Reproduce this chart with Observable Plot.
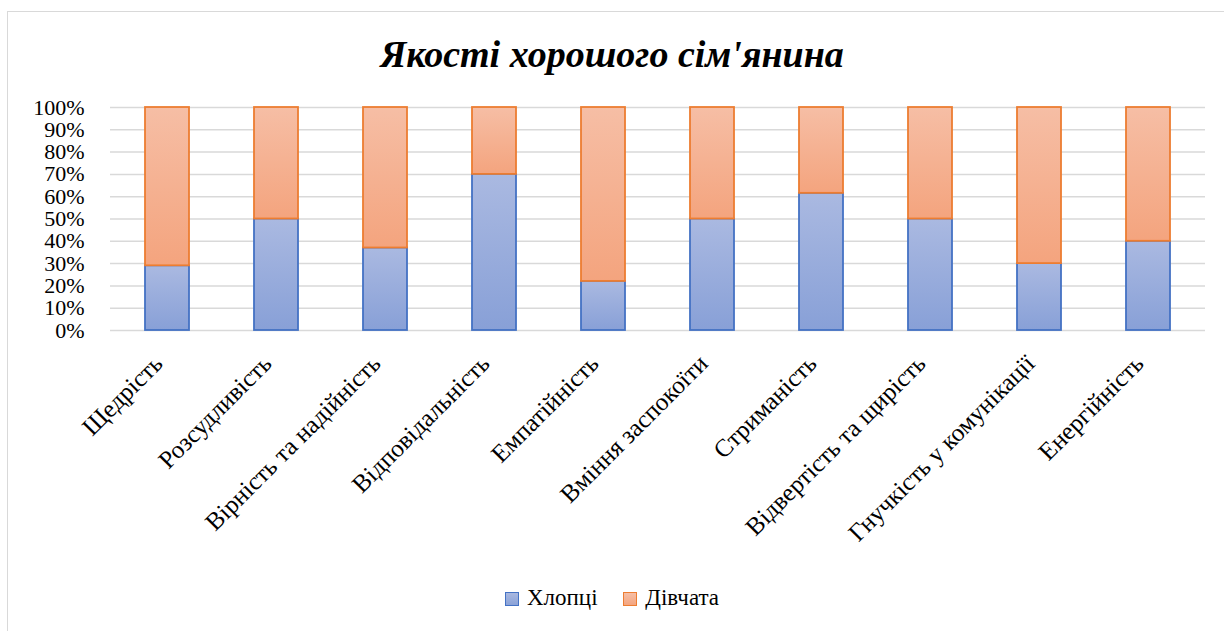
<!DOCTYPE html>
<html>
<head>
<meta charset="utf-8">
<script src="https://cdn.jsdelivr.net/npm/d3@7"></script>
<script src="https://cdn.jsdelivr.net/npm/@observablehq/plot@0.6"></script>
<style>
  html, body { margin: 0; padding: 0; background: #fff; }
  body { width: 1224px; height: 631px; position: relative; overflow: hidden; font-family: "Liberation Serif", "Times New Roman", serif; }
  #frame { position: absolute; left: 7px; top: 11px; width: 1240px; height: 640px; border: 1.5px solid #d9d9d9; box-sizing: border-box; }
  #title { position: absolute; left: 0; top: 32px; width: 1224px; text-align: center; font-family: "Liberation Serif", serif; font-size: 38px; font-weight: bold; font-style: italic; color: #000; }
  #chart { position: absolute; left: 0; top: 90px; }
  #legend { position: absolute; left: 0; top: 585px; width: 1224px; text-align: center; font-family: "Liberation Serif", serif; font-size: 23px; color: #000; }
  .sw { display: inline-block; width: 12px; height: 12px; vertical-align: -1px; margin-right: 8px; }
  .item { display: inline-block; margin: 0 10px; }
</style>
</head>
<body>
<div id="frame"></div>
<div id="title">Якості хорошого сім'янина</div>
<div id="chart"></div>
<div id="legend">
  <span class="item"><span class="sw" style="background:linear-gradient(#a9b8e0,#8aa2d8);border:1.5px solid #4472c4"></span>Хлопці</span>
  <span class="item"><span class="sw" style="background:linear-gradient(#f6bfa6,#f4a57f);border:1.5px solid #ed7d31"></span>Дівчата</span>
</div>
<script>
const categories = ["Щедрість","Розсудливість","Вірність та надійність","Відповідальність","Емпатійність","Вміння заспокоїти","Стриманість","Відвертість та щирість","Гнучкість у комунікації","Енергійність"];
const boys  = [0.29, 0.50, 0.37, 0.70, 0.22, 0.50, 0.615, 0.50, 0.30, 0.40];
const girls = [0.71, 0.50, 0.63, 0.30, 0.78, 0.50, 0.385, 0.50, 0.70, 0.60];
const yTicks = [0,0.1,0.2,0.3,0.4,0.5,0.6,0.7,0.8,0.9,1];

const data = categories.map((c, i) => ({cat: c, boys: boys[i], girls: girls[i], total: boys[i] + girls[i]}));

const chart = Plot.plot({
  width: 1224,
  height: 480,
  marginLeft: 110,
  marginRight: 19,
  marginTop: 17,
  marginBottom: 240,
  style: {fontFamily: '"Liberation Serif", "Times New Roman", serif', color: "#000", background: "transparent"},
  x: {domain: categories, paddingInner: 0.6, paddingOuter: 0.3, label: null},
  y: {domain: [0, 1], label: null},
  marks: [
    Plot.gridY(yTicks, {stroke: "#d9d9d9", strokeOpacity: 1, strokeWidth: 1.5}),
    Plot.barY(data, {x: "cat", y1: 0, y2: "boys", fill: "url(#gBlue)", stroke: "#4472c4", strokeWidth: 1.8, inset: 0}),
    Plot.barY(data, {x: "cat", y1: "boys", y2: "total", fill: "url(#gOrange)", stroke: "#ed7d31", strokeWidth: 1.8, inset: 0}),
    Plot.axisY(yTicks, {tickFormat: d3.format(".0%"), tickSize: 0, tickPadding: 26, fontSize: 22}),
    Plot.axisX({tickSize: 0, tickRotate: -45, tickPadding: 16, fontSize: 25, dx: -9, dy: 13})
  ]
});

const svg = d3.select(chart);
const defs = svg.insert("defs", ":first-child");
const gb = defs.append("linearGradient").attr("id", "gBlue").attr("x1", 0).attr("y1", 0).attr("x2", 0).attr("y2", 1);
gb.append("stop").attr("offset", "0%").attr("stop-color", "#aab9e1");
gb.append("stop").attr("offset", "100%").attr("stop-color", "#88a0d7");
const go = defs.append("linearGradient").attr("id", "gOrange").attr("x1", 0).attr("y1", 0).attr("x2", 0).attr("y2", 1);
go.append("stop").attr("offset", "0%").attr("stop-color", "#f6bea5");
go.append("stop").attr("offset", "100%").attr("stop-color", "#f4a47e");

document.getElementById("chart").appendChild(chart);
</script>
</body>
</html>
